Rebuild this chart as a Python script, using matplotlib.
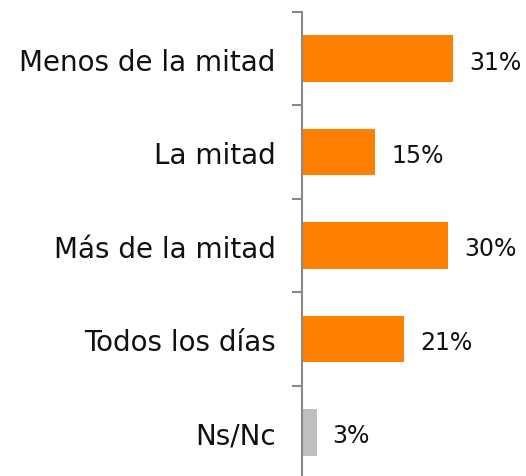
import matplotlib
matplotlib.use("Agg")
import matplotlib.pyplot as plt

categories = ["Menos de la mitad", "La mitad", "Más de la mitad", "Todos los días", "Ns/Nc"]
values = [31, 15, 30, 21, 3]
colors = ["#FF7F00", "#FF7F00", "#FF7F00", "#FF7F00", "#BFBFBF"]

fig = plt.figure(figsize=(5.26, 4.77), dpi=100)
ax = fig.add_axes([302 / 526, -3 / 477, 224 / 526, 467 / 477])

pos = list(range(len(categories)))
ax.barh(pos, values, height=0.5, color=colors)
ax.set_ylim(len(categories) - 0.5, -0.5)
ax.set_xlim(0, 46)

for p, v in zip(pos, values):
    ax.text(v + 3.3, p + 0.03, f"{v}%", va="center", ha="left", fontsize=17, color="#111111")

# ticks at category boundaries, labels in the middle
ax.set_yticks([p - 0.5 for p in pos] + [len(categories) - 0.5])
ax.set_yticks(pos, minor=True)
ax.set_yticklabels([], minor=False)
ax.set_yticklabels(categories, minor=True, fontsize=20, color="#111111")
ax.tick_params(axis="y", which="major", length=7, width=1.5, color="#898989")
ax.tick_params(axis="y", which="minor", length=0, pad=19)
ax.set_xticks([])

for s in ["top", "right", "bottom"]:
    ax.spines[s].set_visible(False)
ax.spines["left"].set_color("#898989")
ax.spines["left"].set_linewidth(1.5)

fig.savefig("out.png", dpi=100)
